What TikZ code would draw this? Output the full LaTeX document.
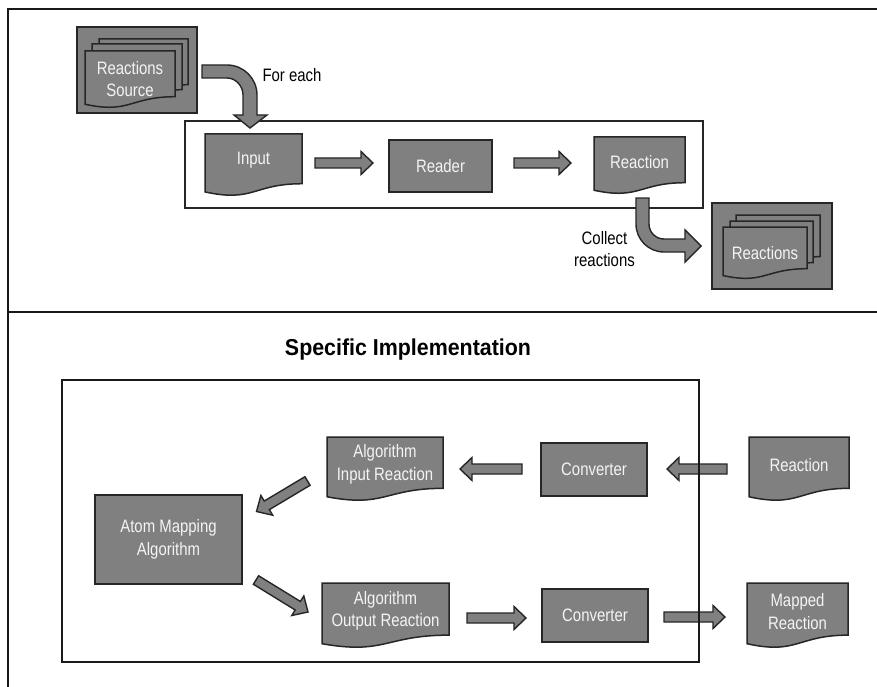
\documentclass[tikz,border=0pt]{standalone}
\usepackage{fontspec}
\setmainfont{Liberation Sans}[FakeStretch=0.83]
\newfontfamily\titlefamily{Liberation Sans}[FakeStretch=0.93]
\usetikzlibrary{calc}
\definecolor{boxgray}{HTML}{808080}
\definecolor{edgecol}{HTML}{262626}
\definecolor{txtcol}{HTML}{F4F4F4}
\newcommand\diagfont{\fontsize{18}{22.5}\selectfont}
\tikzset{
  shapest/.style={fill=boxgray, draw=edgecol, line width=1.5pt, line join=miter},
  boxnode/.style={shapest, rectangle, inner sep=0pt, text=txtcol, align=center, font=\diagfont},
  doctext/.style={rectangle, inner sep=0pt, text=txtcol, align=center, font=\diagfont},
  plainlabel/.style={text=black, align=center, font=\diagfont, inner sep=0pt},
  barrowst/.style={fill=boxgray, draw=edgecol, line width=1.4pt, line join=miter},
  framest/.style={draw=black!90, line width=2.5pt},
}
% document shape: x, y (top-left), w, h
\newcommand\docshape[4]{%
  \draw[shapest] (#1,#2) -- ({#1+#3},#2) -- ({#1+#3},{#2+0.802*#4})
    .. controls ({#1+0.5*#3},{#2+0.802*#4}) and ({#1+0.5*#3},{#2+1.107*#4}) ..
    (#1,{#2+0.934*#4}) -- cycle;}
% document node: name, x, y, w, h, text y, text
\newcommand\docnode[7]{%
  \docshape{#2}{#3}{#4}{#5}
  \node[doctext, minimum width=#4pt, minimum height=0.8*#5pt] (#1) at ({#2+0.5*#4},#6) {#7};}
% straight block arrow between two named coordinates
\newcommand\barrow[2]{%
  \coordinate (bh) at ($(#2)!12pt!(#1)$);
  \draw[barrowst] ($(#1)!5pt!90:(#2)$) -- ($(bh)!5pt!90:(#2)$) -- ($(bh)!11.5pt!90:(#2)$)
    -- (#2) -- ($(bh)!11.5pt!-90:(#2)$) -- ($(bh)!5pt!-90:(#2)$) -- ($(#1)!5pt!-90:(#2)$) -- cycle;}
\begin{document}
\begin{tikzpicture}[x=1pt, y=-1pt]
\useasboundingbox (0,0) rectangle (877,687);
\fill[white] (0,0) rectangle (877,687);
% outer frame and separator
\draw[framest] (877,9) -- (8,9) -- (8,687);
\draw[framest] (8,312) -- (877,312);

% ---------- top part ----------
\node[draw=edgecol, line width=1.2pt, minimum width=518pt, minimum height=87pt, inner sep=0pt] (loop) at (444,164.5) {};

% Reactions Source stack
\node[boxnode, minimum width=120pt, minimum height=86pt] (srcbox) at (137,70) {};
\docshape{99}{39}{89}{57}
\docshape{92}{44}{90}{57}
\docnode{src}{85}{51}{90}{57}{79}{Reactions\\Source}

% for each arrow
\draw[barrowst] (202,65) -- (227,65) .. controls (243.6,65) and (257,78.4) .. (257,95)
  -- (257,115) -- (267,115) -- (250,128) -- (234,115) -- (243,115) -- (243,95)
  .. controls (243,86) and (235.8,78) .. (227,78) -- (202,78) -- cycle;
\node[plainlabel] (foreach) at (292,75) {For each};

\docnode{input}{205}{134}{97}{62}{160}{Input}
\node[boxnode, minimum width=103pt, minimum height=52pt] (reader) at (440.5,166) {Reader};
\docnode{rxn1}{594}{137}{91}{57}{162}{Reaction}

\coordinate (a1s) at (315,163); \coordinate (a1e) at (373,163);
\coordinate (a2s) at (514,163); \coordinate (a2e) at (571,163);
\barrow{a1s}{a1e}
\barrow{a2s}{a2e}

% collect arrow
\draw[barrowst] (636,198) -- (649,198) -- (649,224) .. controls (649,232.3) and (655.7,239) .. (664,239)
  -- (685,239) -- (685,230) -- (701,246) -- (685,262) -- (685,252) -- (664,252)
  .. controls (648.5,252) and (636,239.5) .. (636,224) -- cycle;
\node[plainlabel] (collect) at (604.5,249) {Collect\\reactions};

% Reactions stack
\node[boxnode, minimum width=120pt, minimum height=86pt] (rxnsbox) at (772,246) {};
\docshape{736}{215}{84}{52}
\docshape{730}{221}{83}{52}
\docnode{rxns}{723}{227}{84}{52}{253}{Reactions}

% ---------- bottom part ----------
\node[plainlabel, font=\titlefamily\bfseries\fontsize{23}{27}\selectfont] (title) at (408,350) {Specific Implementation};

\node[boxnode, minimum width=147pt, minimum height=89pt] (atom) at (168.5,539.5) {Atom Mapping\\Algorithm};
\docnode{air}{327}{437}{116}{64}{464.5}{Algorithm\\Input Reaction}
\docnode{aor}{322}{583}{127}{65}{611}{Algorithm\\Output Reaction}
\node[boxnode, minimum width=106pt, minimum height=53pt] (conv1) at (594,469.5) {Converter};
\node[boxnode, minimum width=106pt, minimum height=53pt] (conv2) at (595,615.5) {Converter};
\docnode{rxn2}{749}{437}{100}{64}{465}{Reaction}
\docnode{mapped}{747}{583}{101}{65}{611.5}{Mapped\\Reaction}

\coordinate (b1s) at (727,469);   \coordinate (b1e) at (667,469);
\coordinate (b2s) at (522,469);   \coordinate (b2e) at (460,469);
\coordinate (b3s) at (307.5,481); \coordinate (b3e) at (256.5,511.5);
\coordinate (b4s) at (256,580);   \coordinate (b4e) at (308,612);
\coordinate (b5s) at (467,618);   \coordinate (b5e) at (526,618);
\coordinate (b6s) at (664,617);   \coordinate (b6e) at (725,617);
\barrow{b1s}{b1e}
\barrow{b2s}{b2e}
\barrow{b3s}{b3e}
\barrow{b4s}{b4e}
\barrow{b5s}{b5e}
\barrow{b6s}{b6e}

\node[framest, draw, minimum width=637pt, minimum height=282pt, inner sep=0pt] (impl) at (380.5,521) {};
\end{tikzpicture}
\end{document}
